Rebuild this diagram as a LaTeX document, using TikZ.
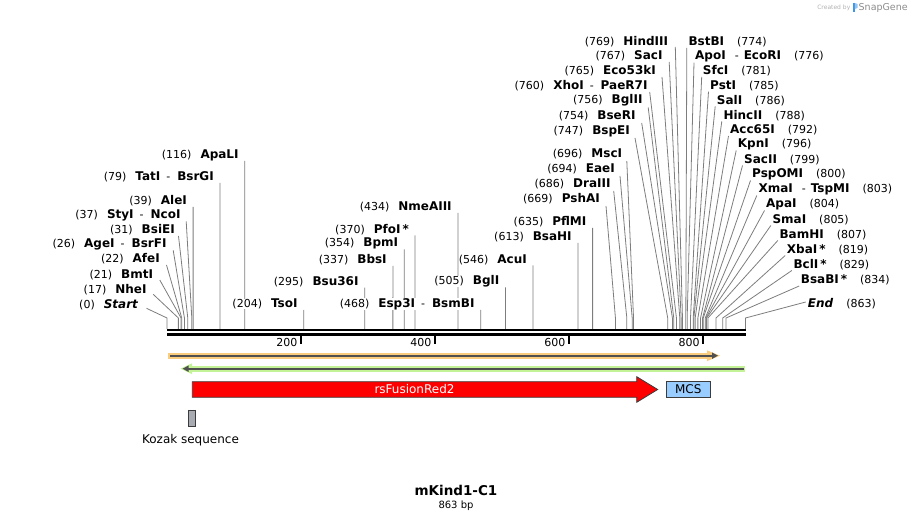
\documentclass[tikz,border=0pt]{standalone}
\usepackage{fontspec}
\setmainfont{DejaVu Sans}
\usetikzlibrary{arrows.meta}
\usetikzlibrary{backgrounds}

\definecolor{cutgray}{RGB}{125,125,125}
\definecolor{orangehalo}{RGB}{250,204,125}
\definecolor{greenhalo}{RGB}{196,242,150}
\definecolor{darkline}{RGB}{80,80,80}
\definecolor{mcsblue}{RGB}{153,204,255}
\definecolor{kozakgray}{RGB}{168,172,178}
\definecolor{bordergray}{RGB}{60,60,60}
\definecolor{snapblue}{RGB}{60,150,230}

\newcommand{\enz}[1]{\textbf{\fontsize{12}{13}\selectfont #1}}
\newcommand{\enzdash}{\hspace{6pt}-\hspace{7pt}}
\newcommand{\numgap}{\hspace{9pt}}
\newcommand{\renzdash}{\hspace{9pt}-\hspace{5pt}}
\newcommand{\rnumgap}{\hspace{13pt}}

\tikzset{
  lab/.style={inner sep=0pt, fill=white, font=\fontsize{11}{13}\selectfont},
  leftlab/.style={lab, anchor=east},
  rightlab/.style={lab, anchor=west},
  cut/.style={draw=cutgray, line width=0.8pt},
}

\begin{document}
\begin{tikzpicture}[line cap=butt,line join=miter,x=1pt,y=-1pt]
\useasboundingbox (0,0) rectangle (913,521);

% sites on the sequence, and the level where the cut lines bend
\foreach \p in {0,17,21,22,26,31,37,39,79,116,204,295,337,354,370,434,468,505,546,613,635,669,686,694,696,747,754,756,760,765,767,769,774,776,781,785,786,788,792,796,799,800,803,804,805,807,819,829,834,863}
  \coordinate (s\p) at ({167+0.6703*\p},329);
\coordinate (bend) at (0,318);

% backbone
\draw [line width=2.6pt] (167,330.2) -- (745.5,330.2);
\draw [line width=2.6pt] (167,334.6) -- (745.5,334.6);

% ruler
\foreach \t in {200,400,600,800} {
  \draw [line width=1.8pt] ({167+0.6703*\t},335.5) -- ({167+0.6703*\t},343.5);
  \node [anchor=east, inner sep=0pt, font=\fontsize{11}{13}\selectfont] (r\t) at ({163.5+0.6703*\t},342.5) {\t};
}

% enzymes, left of their cut line
\node [leftlab] (Start) at (138.5,304.3) {(0)\numgap\enz{\textit{Start}}};
\node [leftlab] (NheI) at (146.7,289.3) {(17)\numgap\enz{NheI}};
\node [leftlab] (BmtI) at (153.3,275) {(21)\numgap\enz{BmtI}};
\node [leftlab] (AfeI) at (160,259) {(22)\numgap\enz{AfeI}};
\node [leftlab] (AgeI) at (166.7,244.3) {(26)\numgap\enz{AgeI}\enzdash\enz{BsrFI}};
\node [leftlab] (BsiEI) at (175,230) {(31)\numgap\enz{BsiEI}};
\node [leftlab] (StyI) at (180.7,215.3) {(37)\numgap\enz{StyI}\enzdash\enz{NcoI}};
\node [leftlab] (AleI) at (187.1,201) {(39)\numgap\enz{AleI}};
\node [leftlab] (TatI) at (214,177) {(79)\numgap\enz{TatI}\enzdash\enz{BsrGI}};
\node [leftlab] (ApaLI) at (238.8,155) {(116)\numgap\enz{ApaLI}};
\node [leftlab] (TsoI) at (297.7,304) {(204)\numgap\enz{TsoI}};
\node [leftlab] (Bsu36I) at (358.7,281.7) {(295)\numgap\enz{Bsu36I}};
\node [leftlab] (BbsI) at (386.9,260) {(337)\numgap\enz{BbsI}};
\node [leftlab] (BpmI) at (398.3,243.5) {(354)\numgap\enz{BpmI}};
\node [leftlab] (PfoI) at (409,229.5) {(370)\numgap\enz{PfoI\,*}};
\node [leftlab] (NmeAIII) at (451.9,207) {(434)\numgap\enz{NmeAIII}};
\node [leftlab] (Esp3I) at (474.7,304) {(468)\numgap\enz{Esp3I}\enzdash\enz{BsmBI}};
\node [leftlab] (BglI) at (499.5,281.5) {(505)\numgap\enz{BglI}};
\node [leftlab] (AcuI) at (527,259.5) {(546)\numgap\enz{AcuI}};
\node [leftlab] (BsaHI) at (571.9,237) {(613)\numgap\enz{BsaHI}};
\node [leftlab] (PflMI) at (586.6,222) {(635)\numgap\enz{PflMI}};
\node [leftlab] (PshAI) at (600,199) {(669)\numgap\enz{PshAI}};
\node [leftlab] (DraIII) at (610.7,184) {(686)\numgap\enz{DraIII}};
\node [leftlab] (EaeI) at (615,169) {(694)\numgap\enz{EaeI}};
\node [leftlab] (MscI) at (622.3,154) {(696)\numgap\enz{MscI}};
\node [leftlab] (BspEI) at (630,131) {(747)\numgap\enz{BspEI}};
\node [leftlab] (BseRI) at (635.7,116) {(754)\numgap\enz{BseRI}};
\node [leftlab] (BglII) at (642.7,100.5) {(756)\numgap\enz{BglII}};
\node [leftlab] (XhoI) at (647.7,86) {(760)\numgap\enz{XhoI}\enzdash\enz{PaeR7I}};
\node [leftlab] (Eco53kI) at (656,71) {(765)\numgap\enz{Eco53kI}};
\node [leftlab] (SacI) at (662.7,56) {(767)\numgap\enz{SacI}};
\node [leftlab] (HindIII) at (668.3,42) {(769)\numgap\enz{HindIII}};

% enzymes, right of their cut line
\node [rightlab] (BstBI) at (688.3,42) {\enz{BstBI}\rnumgap(774)};
\node [rightlab] (ApoI) at (695,56.7) {\enz{ApoI}\renzdash\enz{EcoRI}\rnumgap(776)};
\node [rightlab] (SfcI) at (702.7,71) {\enz{SfcI}\rnumgap(781)};
\node [rightlab] (PstI) at (710,85.6) {\enz{PstI}\rnumgap(785)};
\node [rightlab] (SalI) at (716.7,100.3) {\enz{SalI}\rnumgap(786)};
\node [rightlab] (HincII) at (723.3,115.3) {\enz{HincII}\rnumgap(788)};
\node [rightlab] (Acc65I) at (730,130) {\enz{Acc65I}\rnumgap(792)};
\node [rightlab] (KpnI) at (737.7,144.5) {\enz{KpnI}\rnumgap(796)};
\node [rightlab] (SacII) at (744,159.5) {\enz{SacII}\rnumgap(799)};
\node [rightlab] (PspOMI) at (752,174.5) {\enz{PspOMI}\rnumgap(800)};
\node [rightlab] (XmaI) at (758.3,189.5) {\enz{XmaI}\renzdash\enz{TspMI}\rnumgap(803)};
\node [rightlab] (ApaI) at (766,204.5) {\enz{ApaI}\rnumgap(804)};
\node [rightlab] (SmaI) at (772.3,219.5) {\enz{SmaI}\rnumgap(805)};
\node [rightlab] (BamHI) at (779.3,234.5) {\enz{BamHI}\rnumgap(807)};
\node [rightlab] (XbaI) at (786.7,249.5) {\enz{XbaI\,*}\rnumgap(819)};
\node [rightlab] (BclI) at (793.3,264.5) {\enz{BclI\,*}\rnumgap(829)};
\node [rightlab] (BsaBI) at (800.7,280) {\enz{BsaBI\,*}\rnumgap(834)};
\node [rightlab] (End) at (807.7,304) {\enz{\textit{End}}\rnumgap(863)};

% cut lines, behind the labels
\begin{scope}[on background layer]
\draw [cut] ([shift={(8,4)}]Start.east) -- (s0 |- bend) -- (s0);
\draw [cut] ([shift={(6.5,5)}]NheI.east) -- (s17 |- bend) -- (s17);
\draw [cut] ([shift={(6.5,5)}]BmtI.east) -- (s21 |- bend) -- (s21);
\draw [cut] ([shift={(6.5,6)}]AfeI.east) -- (s22 |- bend) -- (s22);
\draw [cut] ([shift={(6.5,6)}]AgeI.east) -- (s26 |- bend) -- (s26);
\draw [cut] ([shift={(3.5,6)}]BsiEI.east) -- (s31 |- bend) -- (s31);
\draw [cut] ([shift={(5.5,6)}]StyI.east) -- (s37 |- bend) -- (s37);
\draw [cut] ([shift={(6,6)}]AleI.east) -- (s39 |- bend) -- (s39);
\draw [cut] ([shift={(6,6)}]TatI.east) -- (s79 |- bend) -- (s79);
\draw [cut] ([shift={(6,6)}]ApaLI.east) -- (s116 |- bend) -- (s116);
\draw [cut] ([shift={(6,6)}]TsoI.east) -- (s204 |- bend) -- (s204);
\draw [cut] ([shift={(6,6)}]Bsu36I.east) -- (s295 |- bend) -- (s295);
\draw [cut] ([shift={(6,6)}]BbsI.east) -- (s337 |- bend) -- (s337);
\draw [cut] ([shift={(6,6)}]BpmI.east) -- (s354 |- bend) -- (s354);
\draw [cut] ([shift={(6,6)}]PfoI.east) -- (s370 |- bend) -- (s370);
\draw [cut] ([shift={(6,6)}]NmeAIII.east) -- (s434 |- bend) -- (s434);
\draw [cut] ([shift={(6,6)}]Esp3I.east) -- (s468 |- bend) -- (s468);
\draw [cut] ([shift={(6,6)}]BglI.east) -- (s505 |- bend) -- (s505);
\draw [cut] ([shift={(6,6)}]AcuI.east) -- (s546 |- bend) -- (s546);
\draw [cut] ([shift={(6,6)}]BsaHI.east) -- (s613 |- bend) -- (s613);
\draw [cut] ([shift={(6,6)}]PflMI.east) -- (s635 |- bend) -- (s635);
\draw [cut] ([shift={(6,7)}]PshAI.east) -- (s669 |- bend) -- (s669);
\draw [cut] ([shift={(3,7)}]DraIII.east) -- (s686 |- bend) -- (s686);
\draw [cut] ([shift={(5,7)}]EaeI.east) -- (s694 |- bend) -- (s694);
\draw [cut] ([shift={(4.5,7)}]MscI.east) -- (s696 |- bend) -- (s696);
\draw [cut] ([shift={(5,7)}]BspEI.east) -- (s747 |- bend) -- (s747);
\draw [cut] ([shift={(6,7)}]BseRI.east) -- (s754 |- bend) -- (s754);
\draw [cut] ([shift={(5.5,7)}]BglII.east) -- (s756 |- bend) -- (s756);
\draw [cut] ([shift={(2,6)}]XhoI.east) -- (s760 |- bend) -- (s760);
\draw [cut] ([shift={(6,6)}]Eco53kI.east) -- (s765 |- bend) -- (s765);
\draw [cut] ([shift={(6.5,6)}]SacI.east) -- (s767 |- bend) -- (s767);
\draw [cut] ([shift={(7,5)}]HindIII.east) -- (s769 |- bend) -- (s769);
\draw [cut] ([shift={(-1.5,6)}]BstBI.west) -- (s774 |- bend) -- (s774);
\draw [cut] ([shift={(-1,6)}]ApoI.west) -- (s776 |- bend) -- (s776);
\draw [cut] ([shift={(-1,6)}]SfcI.west) -- (s781 |- bend) -- (s781);
\draw [cut] ([shift={(-1.5,6)}]PstI.west) -- (s785 |- bend) -- (s785);
\draw [cut] ([shift={(-1.5,6)}]SalI.west) -- (s786 |- bend) -- (s786);
\draw [cut] ([shift={(-1.5,6)}]HincII.west) -- (s788 |- bend) -- (s788);
\draw [cut] ([shift={(-1.5,6)}]Acc65I.west) -- (s792 |- bend) -- (s792);
\draw [cut] ([shift={(-1.5,6)}]KpnI.west) -- (s796 |- bend) -- (s796);
\draw [cut] ([shift={(-1.5,6)}]SacII.west) -- (s799 |- bend) -- (s799);
\draw [cut] ([shift={(-1.5,6)}]PspOMI.west) -- (s800 |- bend) -- (s800);
\draw [cut] ([shift={(-1.5,6)}]XmaI.west) -- (s803 |- bend) -- (s803);
\draw [cut] ([shift={(-1.5,6)}]ApaI.west) -- (s804 |- bend) -- (s804);
\draw [cut] ([shift={(-1.5,6)}]SmaI.west) -- (s805 |- bend) -- (s805);
\draw [cut] ([shift={(-1.5,6)}]BamHI.west) -- (s807 |- bend) -- (s807);
\draw [cut] ([shift={(-1.5,6)}]XbaI.west) -- (s819 |- bend) -- (s819);
\draw [cut] ([shift={(-1.5,6)}]BclI.west) -- (s829 |- bend) -- (s829);
\draw [cut] ([shift={(-1.5,6)}]BsaBI.west) -- (s834 |- bend) -- (s834);
\draw [cut] ([shift={(-2,-2)}]End.west) -- (s863 |- bend) -- (s863);
\end{scope}

% primers
\fill [orangehalo] (168,352.7) rectangle (711,358.7);
\fill [orangehalo] (707,350.3) -- (720,355.7) -- (707,361.1) -- cycle;
\draw [darkline, line width=1.8pt, -{Triangle[length=6pt,width=6pt]}] (170,355.7) -- (718,355.7);
\fill [greenhalo] (187,365.7) rectangle (745.3,371.7);
\fill [greenhalo] (192,363.3) -- (180.5,368.7) -- (192,374.1) -- cycle;
\draw [darkline, line width=1.8pt, -{Triangle[length=6pt,width=6pt]}] (744,368.7) -- (182.5,368.7);

% features
\draw [fill=red, draw=bordergray, line width=0.8pt] (192.3,381.7) -- (636.7,381.7) -- (636.7,376.7) -- (657.7,389.5) -- (636.7,402.3) -- (636.7,397.3) -- (192.3,397.3) -- cycle;
\node [text=white, font=\fontsize{12}{14}\selectfont] (fp) at (414.5,389.5) {rsFusionRed2};
\node [draw=bordergray, fill=mcsblue, line width=0.8pt, minimum width=44.7pt, minimum height=15.6pt, inner sep=0pt, font=\fontsize{12}{14}\selectfont] (mcs) at (688.3,389.5) {MCS};
\draw [fill=kozakgray, draw=bordergray, line width=0.8pt] (188.3,410) rectangle (195.7,426);
\node [font=\fontsize{12}{14}\selectfont] (kozak) at (190.5,440) {Kozak sequence};

% title
\node [font=\bfseries\fontsize{13.5}{15}\selectfont] (title) at (456,490.5) {mKind1-C1};
\node [font=\fontsize{10}{12}\selectfont] (size) at (456,505.5) {863 bp};

% watermark
\node [anchor=east, inner sep=0pt, text=black!30, font=\fontsize{6}{7}\selectfont] (made) at (850.5,7.5) {Created by};
\fill [snapblue] (852.5,3) rectangle (854.8,12);
\fill [snapblue!55] (854.8,3) -- (857.5,4) -- (857.5,8) -- (854.8,9) -- cycle;
\node [anchor=west, inner sep=0pt, text=black!45, font=\fontsize{9.5}{11}\selectfont] (snap) at (858.5,7.5) {SnapGene};
\end{tikzpicture}
\end{document}
